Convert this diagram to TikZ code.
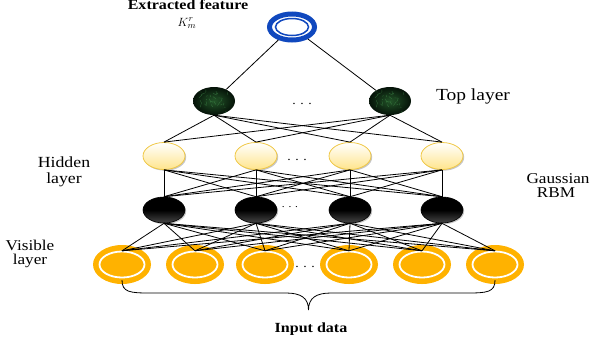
\documentclass[tikz,border=0pt]{standalone}
\usepackage{fontspec}
\setmainfont[FakeStretch=1.15]{Liberation Serif}
\usetikzlibrary{shapes.geometric,shadows,calc}
\definecolor{ringblue}{RGB}{16,72,190}
\definecolor{unitorange}{RGB}{255,178,0}
\definecolor{hidfill}{RGB}{255,228,140}
\definecolor{hidedge}{RGB}{240,200,70}
\definecolor{toplight}{RGB}{34,84,40}
\definecolor{topdark}{RGB}{5,18,8}
\definecolor{speck}{RGB}{70,150,80}
\begin{document}
\begin{tikzpicture}[x=1bp,y=-1bp,
  link/.style={black,line width=0.8bp},
  featurering/.style={ellipse,draw=ringblue,line width=5bp,fill=white,
    minimum width=45bp,minimum height=26bp,inner sep=0pt,
    path picture={\draw[ringblue,line width=1.5bp]
      (path picture bounding box.center) ellipse [x radius=16.5bp,y radius=8.5bp];}},
  topunit/.style={ellipse,inner sep=0pt,minimum width=42bp,minimum height=28bp,
    inner color=toplight,outer color=topdark,
    path picture={\pgfmathsetseed{7}
      \foreach \i in {1,...,28}{\draw[speck,line width=0.4bp,opacity=0.55]
        ($(path picture bounding box.center)+(rand*16bp,rand*10bp)$) -- ++(rand*4bp,rand*4bp);}}},
  hidunit/.style={ellipse,inner sep=0pt,minimum width=42bp,minimum height=27bp,
    draw=hidedge,line width=0.8bp,top color=white,bottom color=hidfill,
    drop shadow={shadow xshift=1.2bp,shadow yshift=-1.2bp,opacity=0.45}},
  blkunit/.style={ellipse,inner sep=0pt,minimum width=42bp,minimum height=26bp,
    draw=black,line width=0.6bp,top color=black,bottom color=black!72!white,middle color=black,
    drop shadow={shadow xshift=1.2bp,shadow yshift=-1.2bp,opacity=0.45}},
  visunit/.style={ellipse,inner sep=0pt,minimum width=58bp,minimum height=39bp,
    fill=unitorange,
    path picture={\draw[white,line width=1.8bp]
      (path picture bounding box.center) ellipse [x radius=22.5bp,y radius=13bp];}},
  lbl/.style={anchor=base,inner sep=0pt,font=\fontsize{15}{17}\selectfont},
  dotsl/.style={anchor=base,inner sep=0pt,font=\fontsize{12}{12}\selectfont}
]
\useasboundingbox (0,0) rectangle (591,342);

% feature unit at the top
\node[featurering] (top) at (292,27) {};

% top layer
\node[topunit] (g1) at (214,101) {};
\node[topunit] (g2) at (390,101) {};

% hidden layer
\foreach \x [count=\i] in {164,256,350,442}
  \node[hidunit] (h\i) at (\x,156) {};

% Gaussian RBM units
\foreach \x [count=\i] in {164,256,350,442}
  \node[blkunit] (b\i) at (\x,210) {};

% visible layer
\foreach \x [count=\i] in {122,195,265,349,422,495}
  \node[visunit] (o\i) at (\x,264.5) {};

% connections
\draw[link] (top) -- (g1);
\draw[link] (top) -- (g2);
\foreach \g in {1,2}
  \foreach \h in {1,...,4}
    \draw[link] (g\g.south) -- (h\h.north);
\foreach \h in {1,...,4}
  \foreach \b in {1,...,4}
    \draw[link] (h\h.south) -- (b\b.north);
\foreach \b in {1,...,4}
  \foreach \o in {1,...,6}
    \draw[link] (b\b.south) -- ([yshift=-6bp]o\o.north);

% brace under the visible units
\coordinate (bl) at ([yshift=4bp]o1.south);
\coordinate (br) at ([yshift=4bp]o6.south);
\coordinate (tip) at (308.5,310);
\draw[link] (bl) .. controls ++(0,12) and (130,293) .. (150,293)
  -- (286,293) .. controls (301,293) and (308.5,298) .. (tip)
  .. controls (308.5,298) and (316,293) .. (331,293)
  -- (467,293) .. controls (487,293) and ($(br)+(0,12)$) .. (br);

% ellipsis marks
\node[dotsl] (d1) at (302,104) {. . .};
\node[dotsl] (d2) at (297,160) {. . .};
\node[dotsl,font=\fontsize{10}{10}\selectfont] (d3) at (290,207) {. . .};
\node[dotsl] (d4) at (305,267) {. . .};

% labels
\node[lbl,font=\fontsize{14}{16}\bfseries] (lf) at (188,9.5) {Extracted feature};
\node[anchor=base,inner sep=0pt,font=\fontsize{13}{15}\selectfont] (lk) at (187,26) {$K_m^{r}$};
\node[lbl,font=\fontsize{17}{19}\selectfont] (lt) at (473,100) {Top layer};
\node[lbl,font=\fontsize{15.5}{18}\selectfont] (lh1) at (64,167) {Hidden};
\node[lbl,font=\fontsize{15.5}{18}\selectfont] (lh2) at (64,183) {layer};
\node[lbl] (lg1) at (558,183) {Gaussian};
\node[lbl] (lg2) at (556,197.5) {RBM};
\node[lbl] (lv1) at (30,250) {Visible};
\node[lbl] (lv2) at (30,264) {layer};
\node[lbl,font=\fontsize{14}{16}\bfseries] (li) at (311,332) {Input data};
\end{tikzpicture}
\end{document}
